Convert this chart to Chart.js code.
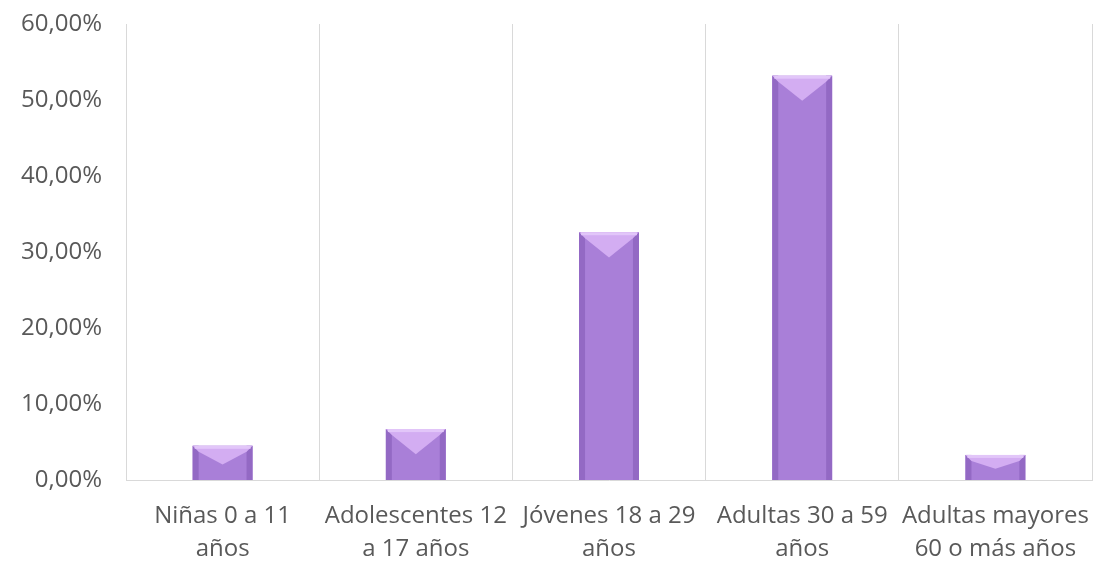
<!DOCTYPE html>
<html>
<head>
<meta charset="utf-8">
<script src="https://cdn.jsdelivr.net/npm/chart.js@4.4.1/dist/chart.umd.min.js"></script>
<style>
  html, body { margin: 0; padding: 0; background: #fff; }
  #wrap { width: 1099px; height: 565px; position: relative; }
</style>
</head>
<body>
<div id="wrap"><canvas id="chart"></canvas></div>
<script>
// --- data ---
const categories = [
    ['Niñas 0 a 11', 'años'],
    ['Adolescentes 12', 'a 17 años'],
    ['Jóvenes 18 a 29', 'años'],
    ['Adultas 30 a 59', 'años'],
    ['Adultas mayores', '60 o más años']
];
const shares = [4.5, 6.7, 32.6, 53.2, 3.3];
const yTicks = [0, 10, 20, 30, 40, 50, 60];

// bevel look of the bars, drawn over each bar element
const bevelPlugin = {
    id: 'bevel',
    afterDatasetsDraw(chart) {
        const ctx = chart.ctx;
        chart.getDatasetMeta(0).data.forEach(bar => {
            const left = bar.x - bar.width / 2;
            const right = bar.x + bar.width / 2;
            const top = bar.y;
            const bottom = bar.base;
            const h = bottom - top;
            const edge = 6;
            ctx.save();
            // darker sides
            ctx.fillStyle = '#9369c4';
            ctx.fillRect(left, top, edge, h);
            ctx.fillRect(right - edge, top, edge, h);
            // lighter V on the top
            const depth = Math.min(h * 0.55, bar.width * 0.42);
            ctx.fillStyle = '#d3adf2';
            ctx.beginPath();
            ctx.moveTo(left, top);
            ctx.lineTo(right, top);
            ctx.lineTo(right - edge, top + edge);
            ctx.lineTo(bar.x, top + depth);
            ctx.lineTo(left + edge, top + edge);
            ctx.closePath();
            ctx.fill();
            // bright rim on the top edge
            ctx.fillStyle = '#e2c6f9';
            ctx.fillRect(left + 2, top, bar.width - 4, 3);
            ctx.restore();
        });
    }
};

const ctx = document.getElementById('chart').getContext('2d');
new Chart(ctx, {
    type: 'bar',
    data: {
        labels: categories,
        datasets: [{
            data: shares,
            backgroundColor: '#a97fd8',
            borderWidth: 0,
            categoryPercentage: 1,
            barPercentage: 0.31
        }]
    },
    options: {
        responsive: true,
        maintainAspectRatio: false,
        animation: false,
        events: [],
        layout: { padding: { top: 24, right: 7, left: 0, bottom: 0 } },
        plugins: { legend: { display: false }, tooltip: { enabled: false } },
        scales: {
            y: {
                min: 0,
                max: 60,
                afterBuildTicks: scale => { scale.ticks = yTicks.map(v => ({ value: v })); },
                afterFit: scale => {
                    scale.width = 126;
                    scale.paddingTop = 0;
                    scale.paddingBottom = 0;
                },
                grid: { display: false },
                border: { display: false },
                ticks: {
                    padding: 16,
                    color: '#595959',
                    font: { family: 'Open Sans', size: 24 },
                    callback: v => v.toFixed(2).replace('.', ',') + '%'
                }
            },
            x: {
                afterFit: scale => {
                    scale.height = 85;
                    scale.paddingLeft = 0;
                    scale.paddingRight = 0;
                },
                grid: { color: '#d9d9d9', lineWidth: 1, drawTicks: false, offset: true },
                border: { color: '#d9d9d9' },
                ticks: {
                    padding: 19,
                    maxRotation: 0,
                    autoSkip: false,
                    color: '#595959',
                    font: { family: 'Open Sans', size: 24, lineHeight: 1.4 }
                }
            }
        }
    },
    plugins: [bevelPlugin]
});
</script>
</body>
</html>
